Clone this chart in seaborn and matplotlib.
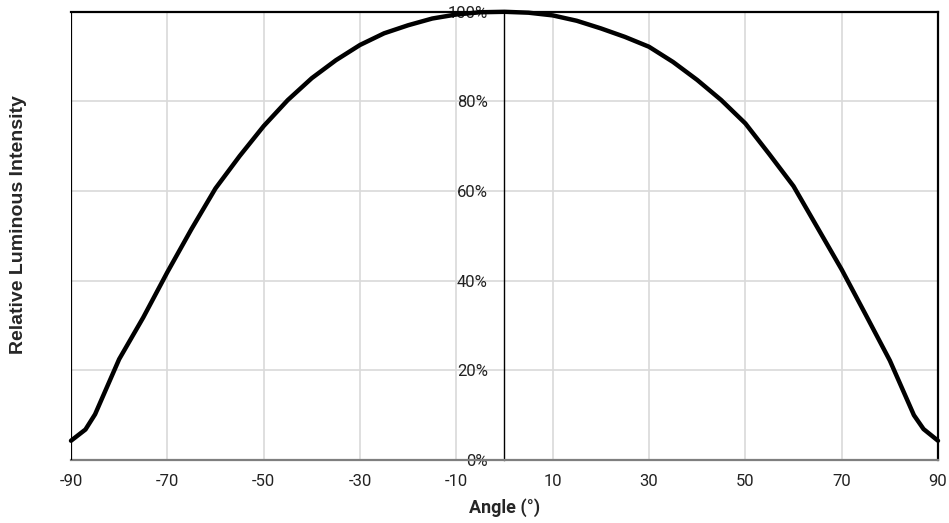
import matplotlib
matplotlib.use("Agg")
import matplotlib.pyplot as plt
import seaborn as sns
import pandas as pd
from matplotlib.ticker import FuncFormatter

angles = [-90, -87, -85, -80, -75, -70, -65, -60, -55, -50, -45, -40, -35, -30, -25, -20,
          -15, -10, -5, 0, 5, 10, 15, 20, 25, 30, 35, 40, 45, 50, 55, 60, 65, 70, 75, 80,
          85, 87, 90]
intensity = [4.3, 6.8, 10.2, 22.5, 31.8, 41.9, 51.5, 60.6, 67.8, 74.5, 80.3, 85.2, 89.2,
             92.6, 95.2, 97.0, 98.5, 99.4, 99.9, 100.0, 99.8, 99.2, 98.0, 96.3, 94.4,
             92.2, 88.8, 84.8, 80.3, 75.1, 68.2, 61.1, 51.8, 42.5, 32.4, 22.2, 10.0,
             6.9, 4.3]
x_ticks = [-90, -70, -50, -30, -10, 10, 30, 50, 70, 90]
y_ticks = [0, 20, 40, 60, 80, 100]

df = pd.DataFrame({"angle": angles, "intensity": intensity})

sns.set_style("white")
plt.rcParams["font.family"] = ["Roboto", "DejaVu Sans"]
plt.rcParams["axes.unicode_minus"] = False

fig = plt.figure(figsize=(9.49, 5.23), dpi=100)
ax = fig.add_axes([71 / 949, 1 - 460 / 523, (938 - 71) / 949, (460 - 11.8) / 523])

xmin, xmax = x_ticks[0], x_ticks[-1]
ax.set_xlim(xmin, xmax)
ax.set_ylim(y_ticks[0], y_ticks[-1])

grid_c = "#d9d9d9"
for xv in x_ticks[1:-1]:
    ax.axvline(xv, color=grid_c, lw=1.2, zorder=0)
for yv in y_ticks[1:-1]:
    ax.axhline(yv, color=grid_c, lw=1.2, zorder=0)

sns.lineplot(data=df, x="angle", y="intensity", color="black", lw=3.2, ax=ax, zorder=3,
             clip_on=False, solid_joinstyle="round", solid_capstyle="round")

# spines
ax.spines["left"].set_position(("data", 0))
ax.spines["left"].set_color("black")
ax.spines["left"].set_linewidth(1.0)
ax.spines["left"].set_zorder(2)
for s in ["top", "right"]:
    ax.spines[s].set_color("black")
    ax.spines[s].set_linewidth(1.6)
ax.spines["bottom"].set_color("#7f7f7f")
ax.spines["bottom"].set_linewidth(1.6)
ax.axvline(xmin, color="black", lw=1.6, zorder=4)

ax.set_xticks(x_ticks)
ax.set_yticks(y_ticks)
ax.yaxis.set_major_formatter(FuncFormatter(lambda v, p: f"{v:.0f}%"))
ax.tick_params(axis="x", direction="out", length=4, width=1, color="#bfbfbf",
               pad=6, labelsize=12, labelcolor="#222222")
ax.tick_params(axis="y", direction="out", length=5, width=1, color="black",
               pad=7, labelsize=12, labelcolor="#222222")

ax.set_xlabel("Angle (°)", fontsize=13, fontweight="bold", labelpad=6.5)
ax.set_ylabel("Relative Luminous Intensity", fontsize=14, fontweight="bold",
              family=["Liberation Sans", "DejaVu Sans"])
ax.yaxis.set_label_coords(-44 / 867, 0.525)

fig.savefig("out.png", dpi=100)
